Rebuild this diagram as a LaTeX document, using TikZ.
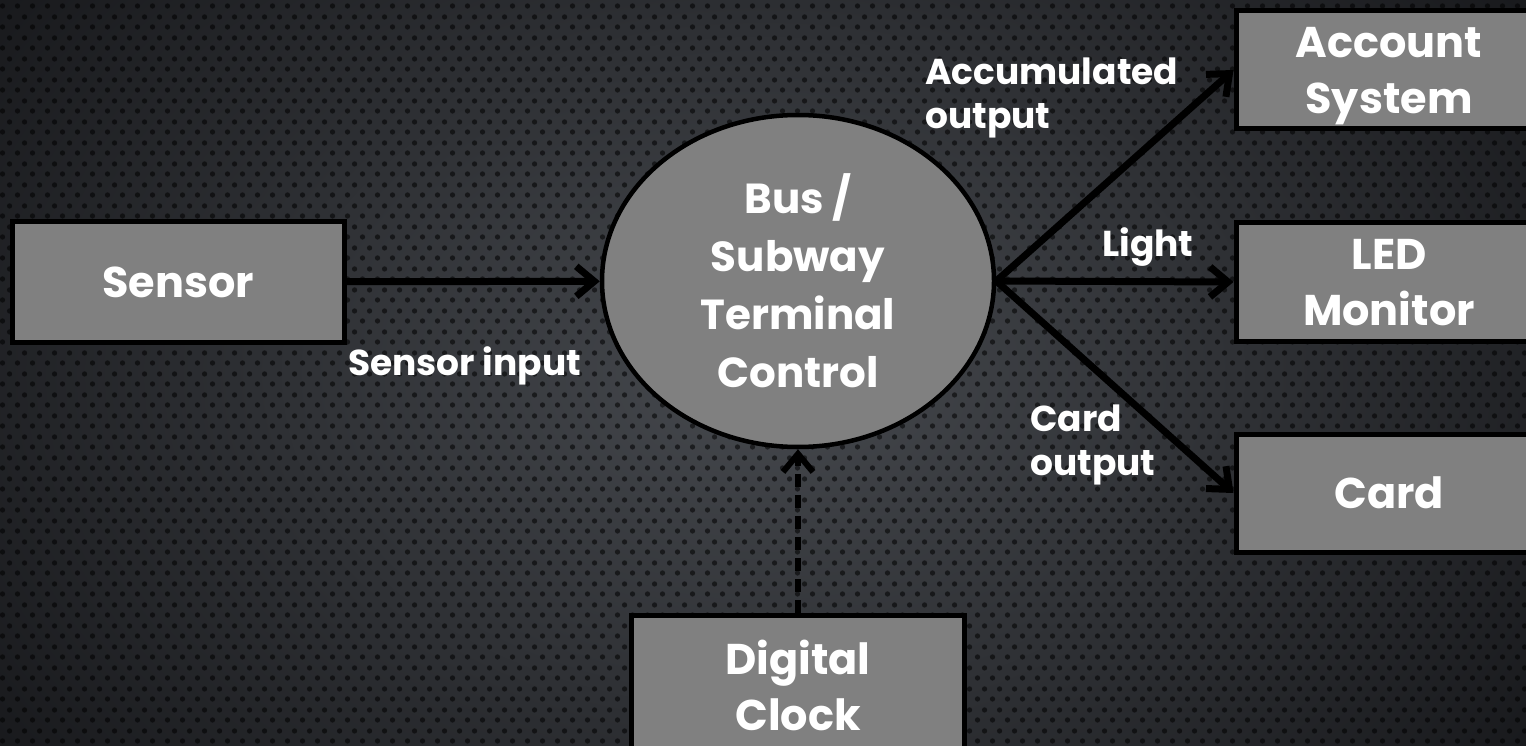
\documentclass[tikz,border=0pt]{standalone}
\usepackage{fontspec}
\setmainfont{Poppins}
\usetikzlibrary{arrows.meta,shapes.geometric,patterns.meta}
\definecolor{boxgray}{HTML}{808080}
\definecolor{bginner}{HTML}{46494E}
\definecolor{bgouter}{HTML}{17181B}
\newcommand{\bigtxt}{\bfseries\fontsize{43pt}{56pt}\selectfont}
\newcommand{\elltxt}{\bfseries\fontsize{42pt}{58pt}\selectfont}
\newcommand{\smalltxt}{\bfseries\fontsize{36pt}{44pt}\selectfont}
\tikzdeclarepattern{
  name=dotgrid,
  type=uncolored,
  bounding box={(0pt,0pt) and (15pt,21pt)},
  tile size={(15pt,21pt)},
  code={
    \fill (3.75pt,5.25pt) circle (2.8pt);
    \fill (11.25pt,15.75pt) circle (2.8pt);
  }
}
\tikzset{
  box/.style={draw=black, line width=5pt, fill=boxgray, text=white, align=center,
    inner sep=0pt, text depth=0pt, minimum width=306pt, minimum height=118pt, font=\bigtxt},
  proc/.style={ellipse, draw=black, line width=4.5pt, fill=boxgray, text=white, align=center,
    inner sep=0pt, minimum width=392pt, minimum height=332pt, font=\elltxt},
  arr/.style={draw=black, line width=7pt, -{Straight Barb[length=18pt,width=30pt]}},
  lbl/.style={text=white, font=\smalltxt, inner sep=0pt, align=left}
}
\begin{document}
\begin{tikzpicture}[x=1pt,y=-1pt]
\useasboundingbox (0,0) rectangle (1526,746);
\shade[inner color=bginner, outer color=bgouter] (-200,-300) rectangle (1726,1046);
\fill[pattern=dotgrid, pattern color=black, fill opacity=0.55] (0,0) rectangle (1526,746);

\node[box, minimum width=332pt, minimum height=121pt] (sensor) at (178,282) {Sensor};
\node[proc] (ctrl) at (798,281) {Bus /\\Subway\\Terminal\\Control};
\node[box] (acct) at (1389,70) {Account\\System};
\node[box] (led) at (1389,282) {LED\\Monitor};
\node[box] (card) at (1389,493) {Card};
\node[box, minimum width=333pt, minimum height=140pt] (clock) at (798,685) {Digital\\Clock};

\draw[arr] (sensor) -- (ctrl);
\draw[arr] (ctrl.east) -- (acct.west);
\draw[arr] (ctrl.east) -- (led.west);
\draw[arr] (ctrl.east) -- (card.west);
\draw[arr, line width=6pt, dash pattern=on 13pt off 8pt] (clock) -- (ctrl);

\node[lbl, anchor=base west] (lsensor) at (348,375) {Sensor input};
\node[lbl, anchor=north west] (lacc) at (925,58) {Accumulated\\output};
\node[lbl, anchor=base] (llight) at (1148,256) {Light};
\node[lbl, anchor=north west] (lcard) at (1030,405) {Card\\output};
\end{tikzpicture}
\end{document}
